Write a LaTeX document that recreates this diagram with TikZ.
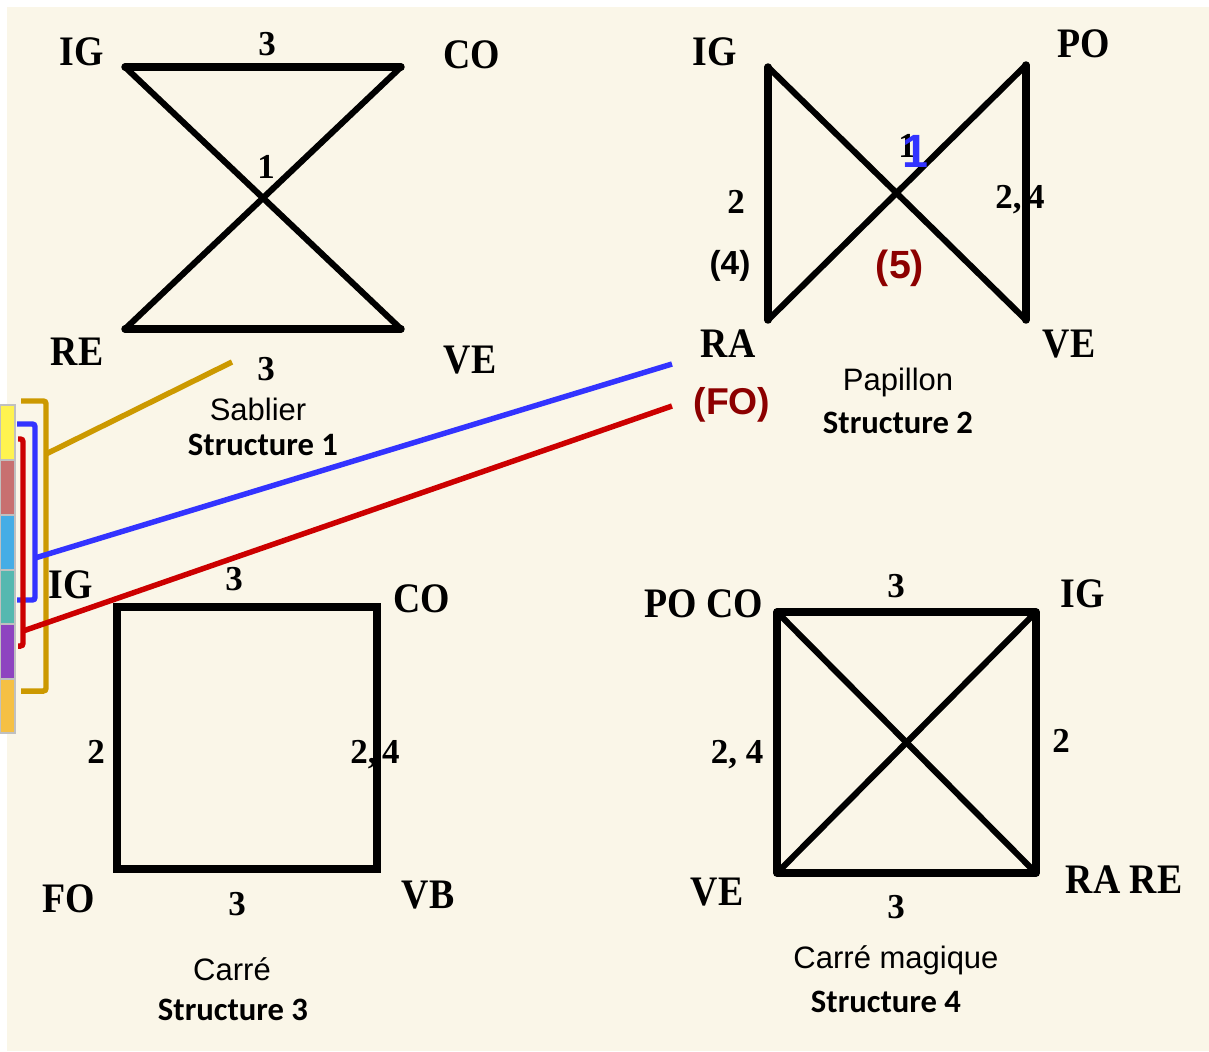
\documentclass[tikz,border=0pt]{standalone}
\usepackage{fontspec}
\setmainfont{Liberation Serif}
\newfontfamily\labf[FakeStretch=0.9]{Liberation Serif}
\newfontfamily\numf{Liberation Serif}
\newfontfamily\arialf{Liberation Sans}
\newfontfamily\carlf{Carlito}
\definecolor{cream}{RGB}{250,246,232}
\definecolor{goldl}{RGB}{204,153,0}
\definecolor{bluel}{RGB}{51,51,255}
\definecolor{redl}{RGB}{204,0,0}
\definecolor{dred}{RGB}{140,0,0}
\definecolor{cya}{RGB}{255,243,80}
\definecolor{cro}{RGB}{200,112,112}
\definecolor{cbl}{RGB}{69,173,230}
\definecolor{cte}{RGB}{85,184,176}
\definecolor{cpu}{RGB}{142,68,192}
\definecolor{cor}{RGB}{245,192,68}
\tikzset{
  lab/.style={font=\labf\bfseries\fontsize{31.5}{32}\selectfont, inner sep=0pt, anchor=base},
  num/.style={font=\numf\bfseries\fontsize{26.25}{27}\selectfont, inner sep=0pt, anchor=base},
  sanst/.style={font=\arialf\fontsize{23.25}{24}\selectfont, inner sep=0pt, anchor=base},
  struct/.style={font=\carlf\bfseries\fontsize{24.5}{25}\selectfont, inner sep=0pt, anchor=base},
  sansb/.style={font=\arialf\bfseries, inner sep=0pt, anchor=base},
  side/.style={line width=5.6pt, line cap=round, line join=round},
  diag/.style={line width=4.6pt, line cap=round},
  link/.style={line width=4.1pt},
  bracket/.style={line width=4.1pt, rounded corners=2pt},
  swatch/.style={draw={rgb,255:red,192;green,192;blue,192}, line width=1.2pt}
}
\begin{document}
\begin{tikzpicture}[x=0.75pt,y=-0.75pt]
\useasboundingbox (0,0) rectangle (1209,1051);
\fill[white] (0,0) rectangle (1209,1051);
\fill[cream] (7,7) rectangle (1209,1051);

% colour swatches at the left edge
\filldraw[swatch, fill=cya] (0,405) rectangle (15,460);
\filldraw[swatch, fill=cro] (0,460) rectangle (15,515);
\filldraw[swatch, fill=cbl] (0,515) rectangle (15,570);
\filldraw[swatch, fill=cte] (0,570) rectangle (15,624);
\filldraw[swatch, fill=cpu] (0,624) rectangle (15,679);
\filldraw[swatch, fill=cor] (0,679) rectangle (15,733);

% ---------------- Structure 1 : Sablier ----------------
\coordinate (aIG) at (125,67);
\coordinate (aCO) at (401,67);
\coordinate (aRE) at (125,329);
\coordinate (aVE) at (401,329);
\draw[side] (aIG) -- (aCO);
\draw[side] (aRE) -- (aVE);
\draw[diag] (aIG) -- (aVE);
\draw[diag] (aCO) -- (aRE);
\node[lab] (aIGt) at (82,65) {IG};
\node[lab] (aCOt) at (472,68) {CO};
\node[lab] (aREt) at (77,365) {RE};
\node[lab] (aVEt) at (470,373) {VE};
\node[num] (a3t) at (267,55) {3};
\node[num] (a1) at (266,178) {1};
\node[num] (a3b) at (266,380) {3};
\node[sanst] (aname) at (258,420) {Sablier};
\node[struct] (astr) at (263,455) {Structure 1};

% ---------------- Structure 2 : Papillon ----------------
\coordinate (bIG) at (768,67);
\coordinate (bPO) at (1026,65);
\coordinate (bRA) at (768,320);
\coordinate (bVE) at (1026,320);
\draw[side] (bIG) -- (bRA);
\draw[side] (bPO) -- (bVE);
\draw[diag] (bIG) -- (bVE);
\draw[diag] (bPO) -- (bRA);
\node[lab] (bIGt) at (715,65) {IG};
\node[lab] (bPOt) at (1084,57) {PO};
\node[lab] (bRAt) at (728,357) {RA};
\node[lab] (bVEt) at (1069,357) {VE};
\node[sansb, text=dred, font=\arialf\bfseries\fontsize{28}{28}\selectfont] (bFO) at (732,414) {(FO)};
\node[num] (b2) at (736,213) {2};
\node[sansb, font=\arialf\bfseries\fontsize{25}{25}\selectfont] (b4) at (730,274) {(4)};
\node[num] (b24) at (1020,208) {2,\kern4pt4};
\node[sansb, text=dred, font=\arialf\bfseries\fontsize{29.5}{30}\selectfont] (b5) at (900,278) {(5)};
\node[num] (b1k) at (907,157) {1};
\node[sansb, text=bluel, font=\arialf\bfseries\fontsize{35}{35}\selectfont] (b1b) at (915,167) {1};
\node[sanst] (bname) at (898,390) {Papillon};
\node[struct] (bstr) at (898,433) {Structure 2};

% ---------------- Structure 3 : Carre ----------------
\coordinate (cIG) at (117,607);
\coordinate (cCO) at (377,607);
\coordinate (cFO) at (117,869);
\coordinate (cVB) at (377,869);
\draw[side, line cap=butt, line join=miter] (cIG) -- (cCO) -- (cVB) -- (cFO) -- cycle;
\node[lab] (cIGt) at (71,598) {IG};
\node[lab] (cCOt) at (422,612) {CO};
\node[lab] (cFOt) at (69,912) {FO};
\node[lab] (cVBt) at (428,908) {VB};
\node[num] (c3t) at (234,590) {3};
\node[num] (c2) at (96,763) {2};
\node[num] (c24) at (375,763) {2,\kern4pt4};
\node[num] (c3b) at (237,915) {3};
\node[sanst] (cname) at (232,980) {Carré};
\node[struct] (cstr) at (233,1020) {Structure 3};

% ---------------- Structure 4 : Carre magique ----------------
\coordinate (dPC) at (777,612);
\coordinate (dIG) at (1036,612);
\coordinate (dVE) at (777,873);
\coordinate (dRR) at (1036,873);
\draw[side, line cap=butt, line join=round] (dPC) -- (dIG) -- (dRR) -- (dVE) -- cycle;
\draw[diag] (dPC) -- (dRR);
\draw[diag] (dIG) -- (dVE);
\node[lab] (dPCt) at (704,617) {PO CO};
\node[lab] (dIGt) at (1083,607) {IG};
\node[lab] (dVEt) at (717,905) {VE};
\node[lab] (dRRt) at (1124,893) {RA RE};
\node[num] (d3t) at (896,597) {3};
\node[num] (d24) at (737,763) {2, 4};
\node[num] (d2) at (1061,752) {2};
\node[num] (d3b) at (896,918) {3};
\node[sanst] (dname) at (896,968) {Carré magique};
\node[struct] (dstr) at (886,1012) {Structure 4};

% ---------------- brackets and connectors ----------------
\draw[bracket, goldl] (21,401) -- (46,401) -- (46,691) -- (21,691);
\coordinate (gA) at (46,454);
\coordinate (gB) at (232,362);
\draw[link, goldl] (gA) -- (gB);

\draw[bracket, bluel] (17,424) -- (35,424) -- (35,600) -- (17,600);
\coordinate (uA) at (35,558);
\coordinate (uB) at (672,364);
\draw[link, bluel] (uA) -- (uB);

\draw[bracket, redl] (18,439) -- (23,439) -- (23,646) -- (18,646);
\coordinate (rA) at (23,631);
\coordinate (rB) at (672,406);
\draw[link, redl] (rA) -- (rB);
\end{tikzpicture}
\end{document}
